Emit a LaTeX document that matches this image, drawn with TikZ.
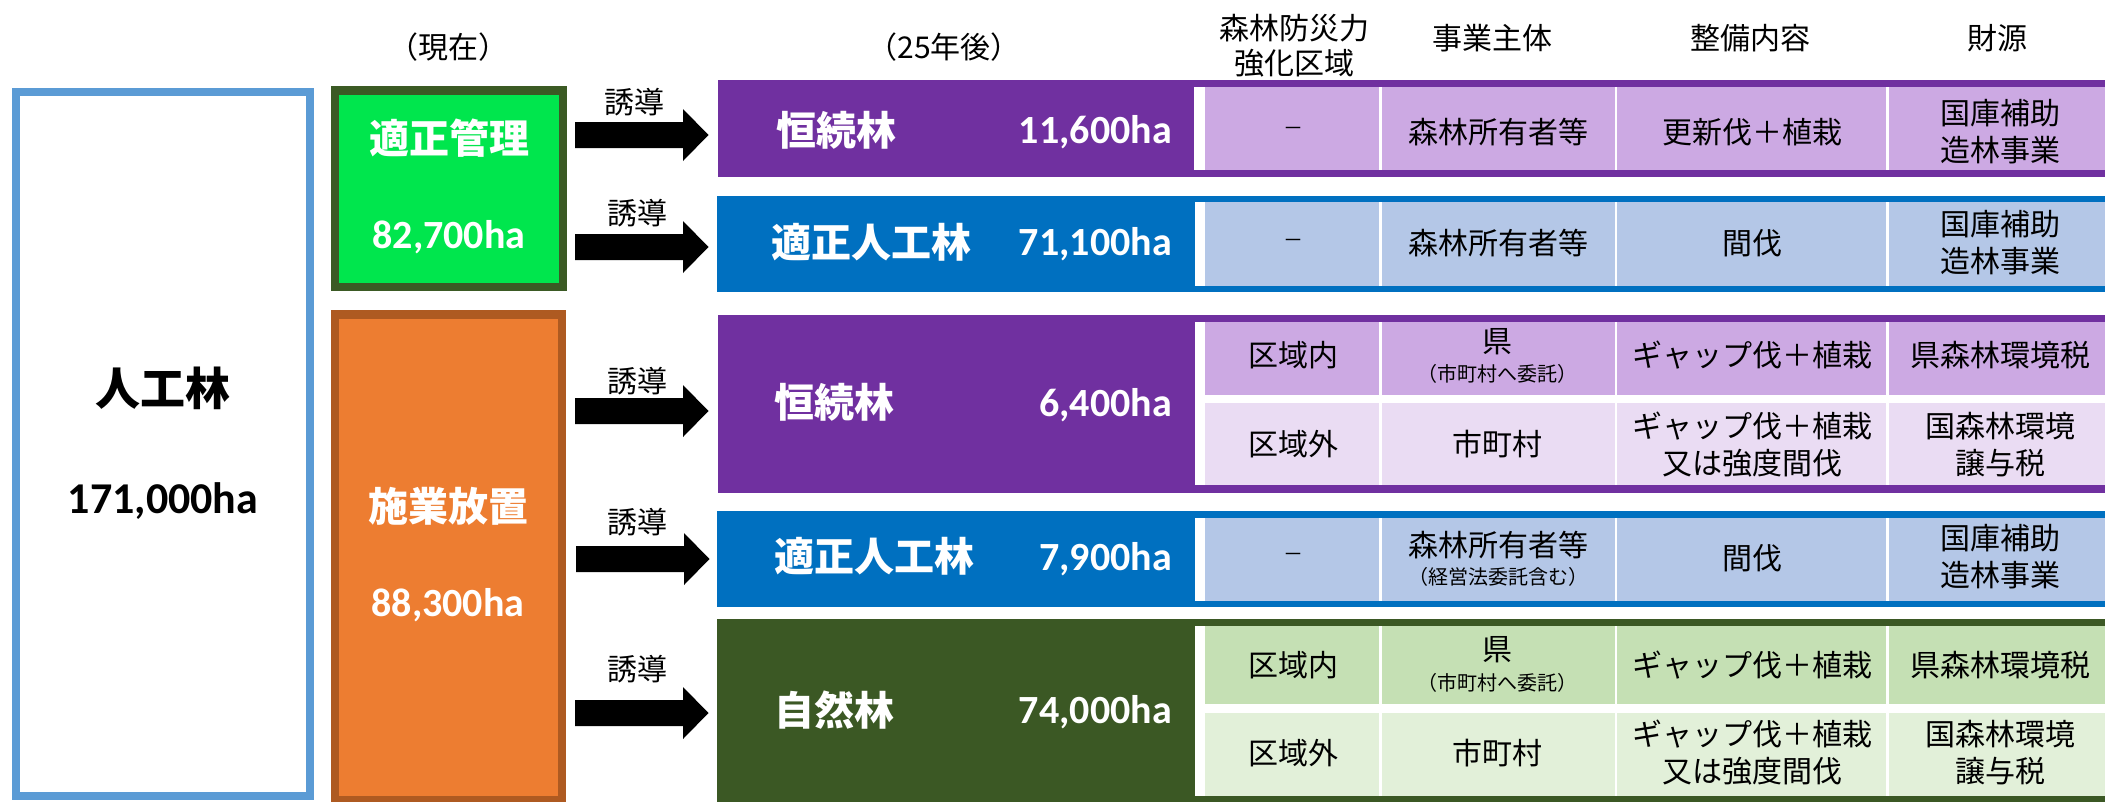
\documentclass[tikz,border=0pt]{standalone}
\usepackage{fontspec}
\newfontfamily\jpf{Noto Sans CJK JP}
\newfontfamily\numf{Carlito}
\definecolor{bluebd}{HTML}{5B9BD5}
\definecolor{grnfill}{HTML}{00E64D}
\definecolor{grnbd}{HTML}{3B5A24}
\definecolor{orfill}{HTML}{ED7D31}
\definecolor{orbd}{HTML}{AE5A21}
\definecolor{purp}{HTML}{7030A0}
\definecolor{purpA}{HTML}{CCA9E3}
\definecolor{purpB}{HTML}{EADCF3}
\definecolor{blu}{HTML}{0070C0}
\definecolor{bluA}{HTML}{B4C7E7}
\definecolor{dgrn}{HTML}{3B5824}
\definecolor{grnA}{HTML}{C5E0B4}
\definecolor{grnB}{HTML}{E2F0D9}
\tikzset{
  jp30/.style={font=\jpf\fontsize{30}{37}\selectfont, align=center, inner sep=0pt},
  jp20/.style={font=\jpf\fontsize{20}{24}\selectfont, inner sep=0pt},
  dashtxt/.style={font=\jpf\fontsize{20}{24}\selectfont, inner sep=0pt},
  jpb40/.style={font=\jpf\bfseries\fontsize{40}{48}\selectfont, text=white, inner sep=0pt},
  nb40/.style={font=\numf\bfseries\fontsize{40}{48}\selectfont, text=white, inner sep=0pt},
  blkarrow/.pic={\fill[black] (0,-13) -- (108,-13) -- (108,-26) -- (133.5,0) -- (108,26) -- (108,13) -- (0,13) -- cycle;},
}
\newcommand\mkcells[3]{%
  \fill[#1] (1205,#2) rectangle (1379,#3);
  \fill[#1] (1382,#2) rectangle (1615,#3);
  \fill[#1] (1617,#2) rectangle (1886,#3);
  \fill[#1] (1889,#2) rectangle (2110,#3);}
\begin{document}
\begin{tikzpicture}[x=1pt,y=-1pt]
\useasboundingbox (0,0) rectangle (2105,801);
\clip (0,0) rectangle (2105,801);
\fill[white] (0,0) rectangle (2105,801);

% ---- left boxes
\node[draw=bluebd, line width=8pt, minimum width=294pt, minimum height=704pt, inner sep=0pt] (jinko) at (163,444) {};
\node[font=\jpf\bfseries\fontsize{45}{54}\selectfont, inner sep=0pt] (jinkoT) at (163,388) {人工林};
\node[font=\numf\bfseries\fontsize{44}{52}\selectfont, inner sep=0pt] (jinkoN) at (163,501) {171,000ha};

\node[draw=grnbd, fill=grnfill, line width=8.5pt, minimum width=228pt, minimum height=196.5pt, inner sep=0pt] (tekisei) at (449,188.75) {};
\node[jpb40] (tekiseiT) at (449,138.5) {適正管理};
\node[nb40] (tekiseiN) at (449,237.5) {82,700ha};

\node[draw=orbd, fill=orfill, line width=8.5pt, minimum width=227pt, minimum height=486pt, inner sep=0pt] (hochi) at (448.5,557.5) {};
\node[jpb40] (hochiT) at (448,506) {施業放置};
\node[nb40] (hochiN) at (448,605.5) {88,300ha};

% ---- headers
\node[jp30] (hGenzai) at (448,47) {（現在）};
\node[jp30] (hAto) at (944,47) {（25年後）};
\node[jp30, font=\jpf\fontsize{30}{35}\selectfont] (hKuiki) at (1294,45.5) {森林防災力\\強化区域};
\node[jp30] (hShutai) at (1492,38) {事業主体};
\node[jp30] (hNaiyo) at (1750,38) {整備内容};
\node[jp30] (hZaigen) at (1997,38) {財源};

% ---- arrows
\pic at (575,135) {blkarrow};
\pic at (575,247) {blkarrow};
\pic at (575,411) {blkarrow};
\pic at (576,559) {blkarrow};
\pic at (575,713) {blkarrow};
\node[jp30] (y1) at (634,102) {誘導};
\node[jp30] (y2) at (637,213.5) {誘導};
\node[jp30] (y3) at (637,381.5) {誘導};
\node[jp30] (y4) at (637,522.5) {誘導};
\node[jp30] (y5) at (637,669.5) {誘導};

% ---- bands
\fill[purp] (718,80) rectangle (2110,177);
\fill[white] (1194,87) rectangle (2110,170);
\mkcells{purpA}{87}{170}
\fill[blu] (717,196) rectangle (2110,292);
\fill[white] (1195,202) rectangle (2110,286);
\mkcells{bluA}{202}{286}
\fill[purp] (718,315) rectangle (2110,493);
\fill[white] (1195,322) rectangle (2110,485);
\mkcells{purpA}{322}{395}
\mkcells{purpB}{403}{485}
\fill[blu] (717,511) rectangle (2110,607);
\fill[white] (1195,518) rectangle (2110,601);
\mkcells{bluA}{518}{601}
\fill[dgrn] (717,619) rectangle (2110,815);
\fill[white] (1195,626) rectangle (2110,796);
\mkcells{grnA}{626}{704}
\mkcells{grnB}{713}{796}

% ---- band labels
\node[jpb40, anchor=west] (r1L) at (776,130) {恒続林};
\node[nb40, anchor=east] (r1N) at (1172,132.5) {11,600ha};
\node[jpb40, anchor=west] (r2L) at (771,242.5) {適正人工林};
\node[nb40, anchor=east] (r2N) at (1172,244) {71,100ha};
\node[jpb40, anchor=west] (r3L) at (774,402.5) {恒続林};
\node[nb40, anchor=east] (r3N) at (1172,405) {6,400ha};
\node[jpb40, anchor=west] (r4L) at (774,556) {適正人工林};
\node[nb40, anchor=east] (r4N) at (1172,559) {7,900ha};
\node[jpb40, anchor=west] (r5L) at (774,710) {自然林};
\node[nb40, anchor=east] (r5N) at (1172,712.5) {74,000ha};

% ---- row 1
\node[dashtxt] (c11) at (1293,131) {－};
\node[jp30] (c12) at (1498,132) {森林所有者等};
\node[jp30] (c13) at (1752,132) {更新伐＋植栽};
\node[jp30] (c14) at (2000,131.5) {国庫補助\\造林事業};
% ---- row 2
\node[dashtxt] (c21) at (1293,243) {－};
\node[jp30] (c22) at (1498,243) {森林所有者等};
\node[jp30] (c23) at (1752,243) {間伐};
\node[jp30] (c24) at (2000,243) {国庫補助\\造林事業};
% ---- row 3
\node[jp30] (c31) at (1293,355) {区域内};
\node[jp30] (c32) at (1497,342) {県};
\node[jp20] (c32s) at (1497,374) {（市町村へ委託）};
\node[jp30] (c33) at (1752,355) {ギャップ伐＋植栽};
\node[jp30] (c34) at (2000,355) {県森林環境税};
\node[jp30] (c35) at (1293,444) {区域外};
\node[jp30] (c36) at (1497,444) {市町村};
\node[jp30] (c37) at (1752,445) {ギャップ伐＋植栽\\又は強度間伐};
\node[jp30] (c38) at (2000,445) {国森林環境\\譲与税};
% ---- row 4
\node[dashtxt] (c41) at (1293,557) {－};
\node[jp30] (c42) at (1498,545) {森林所有者等};
\node[jp20] (c42s) at (1498,577) {（経営法委託含む）};
\node[jp30] (c43) at (1752,558) {間伐};
\node[jp30] (c44) at (2000,557) {国庫補助\\造林事業};
% ---- row 5
\node[jp30] (c51) at (1293,665) {区域内};
\node[jp30] (c52) at (1497,650) {県};
\node[jp20] (c52s) at (1497,683) {（市町村へ委託）};
\node[jp30] (c53) at (1752,665) {ギャップ伐＋植栽};
\node[jp30] (c54) at (2000,665) {県森林環境税};
\node[jp30] (c55) at (1293,753) {区域外};
\node[jp30] (c56) at (1497,753) {市町村};
\node[jp30] (c57) at (1752,752.5) {ギャップ伐＋植栽\\又は強度間伐};
\node[jp30] (c58) at (2000,752.5) {国森林環境\\譲与税};
\end{tikzpicture}
\end{document}
